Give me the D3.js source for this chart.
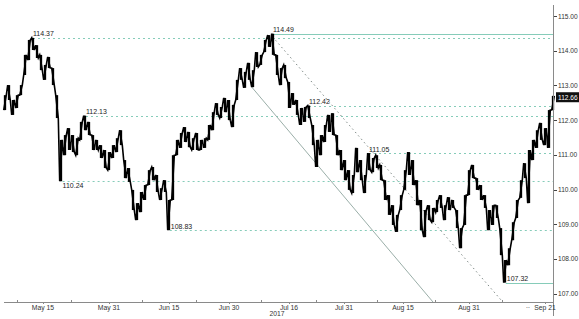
<!DOCTYPE html>
<html><head><meta charset="utf-8">
<script src="https://cdn.jsdelivr.net/npm/d3@7"></script>
<style>body{margin:0;background:#fff}svg{display:block}text{font-family:"Liberation Sans",Arial,sans-serif}</style>
</head><body><svg id="c" width="579" height="319"></svg>
<script>
// USD/JPY, bars (period index 0..137), high and low
const barHigh = [112.72,113.01,112.58,112.72,113.01,113.88,114.31,114.37,114.16,113.88,
113.59,113.82,113.50,112.72,111.43,111.57,111.77,111.57,111.48,111.95,
112.13,111.95,111.57,111.43,111.28,111.14,111.08,111.28,111.48,111.71,
110.85,110.62,109.99,109.61,109.93,110.13,110.56,110.65,110.42,110.04,
110.27,109.70,110.99,111.43,111.63,111.80,111.66,111.48,111.63,111.43,
111.48,111.86,112.23,112.49,112.38,112.64,112.58,112.44,113.16,113.50,
113.39,113.65,113.44,113.96,113.88,114.31,114.45,114.49,113.88,113.50,
113.59,113.10,112.78,112.58,112.35,112.38,112.42,111.86,111.43,111.57,
111.86,112.15,112.20,111.57,111.14,110.85,110.56,110.42,111.20,110.85,
110.42,111.05,110.91,110.99,110.71,110.27,109.84,109.55,109.27,109.84,
110.56,111.08,110.85,110.27,109.70,109.41,109.55,109.47,109.70,109.84,
109.55,109.78,109.70,109.41,108.89,109.84,110.56,110.71,110.33,110.13,
109.84,109.41,109.55,109.55,108.89,107.97,108.31,109.06,109.70,110.27,
110.76,111.14,111.43,111.71,111.92,111.77,112.29,112.70];
const barLow = [112.29,112.58,112.15,112.35,112.72,113.30,113.73,114.02,113.79,113.44,
113.16,113.50,113.01,112.06,110.24,110.99,111.14,111.08,110.99,111.43,
111.71,111.57,111.14,111.14,110.91,110.62,110.56,110.91,111.08,111.28,
110.33,110.22,109.41,109.12,109.35,109.70,110.13,110.27,109.93,109.70,
109.93,108.83,109.70,110.99,111.20,111.37,111.22,111.14,111.14,111.14,
111.20,111.43,111.71,112.15,112.06,112.23,112.00,111.80,112.58,113.16,
112.93,113.16,112.95,113.53,113.59,113.96,114.11,113.88,113.30,113.01,
113.21,112.35,112.44,112.15,111.86,111.95,112.06,111.28,110.65,110.99,
111.37,111.66,111.57,110.99,110.56,110.27,109.99,109.90,110.50,110.27,
109.90,110.56,110.50,110.62,110.27,109.70,109.27,108.98,108.78,109.41,
109.99,110.42,110.13,109.55,108.83,108.63,109.12,109.06,109.35,109.47,
109.12,109.41,109.47,108.89,108.31,108.98,109.84,110.33,109.99,109.70,
109.47,108.83,108.98,109.18,108.11,107.32,107.82,108.54,109.18,109.76,
110.33,109.61,110.85,111.20,111.43,111.28,111.20,112.29];
const lastPrice = 112.66;

// x axis: labels and tick marks, positions in bar index
const tickPos = [9.5, 26, 41, 56, 71, 84.75, 99.5, 116, 135];
const tickLabels = ["May 15","May 31","Jun 15","Jun 30","Jul 16","Jul 31","Aug 15","Aug 31","Sep 21"];
const majorTicks = [3, 16.5, 34.25, 47.75, 64, 77.75, 93, 107.5, 124.25];
const yearLabel = "2017", yearPos = 68;
const yTicks = [107,108,109,110,111,112,113,114,115];

// horizontal levels
const levelValues = [114.49, 114.37, 112.42, 112.13, 111.05, 110.24, 108.83, 107.32];
const levelStart  = [67, 7, 76, 20.25, 91, 14.4, 41.2, 125.2];
const levelSolid  = [true, false, false, false, false, false, false, true];
const levelLabelBelow = [false, false, false, false, false, true, false, false];

// trend lines [startIndex, startPrice, endIndex, endPrice]
const trendSolid  = [61.7, 112.95, 107, 106.76];
const trendDotted = [66.9, 114.40, 124, 106.82];

const svg = d3.select("#c");
const x = d3.scaleLinear().domain([0, 137]).range([5, 553]);
const y = d3.scaleLinear().domain([107, 115]).range([293.7, 16]);
const axisX = 553, axisY = 302;
const teal = "#86ccb9", grey = "#8a8a8a";

// levels
levelValues.forEach((v, i) => {
  svg.append("line").attr("x1", x(levelStart[i])).attr("x2", axisX)
    .attr("y1", Math.round(y(v)) + 0.5).attr("y2", Math.round(y(v)) + 0.5)
    .attr("stroke", teal).attr("stroke-width", 1)
    .attr("stroke-dasharray", levelSolid[i] ? null : "2,3");
});

// trend lines
svg.append("line").attr("x1", x(trendSolid[0])).attr("y1", y(trendSolid[1]))
  .attr("x2", x(trendSolid[2])).attr("y2", y(trendSolid[3]))
  .attr("stroke", "#9aaea8").attr("stroke-width", 1);
svg.append("line").attr("x1", x(trendDotted[0])).attr("y1", y(trendDotted[1]))
  .attr("x2", x(trendDotted[2])).attr("y2", y(trendDotted[3]))
  .attr("stroke", "#7f8a87").attr("stroke-width", 1).attr("stroke-dasharray", "1.5,3");

// price bars
const idx = d3.range(barHigh.length);
svg.append("g").selectAll("line").data(idx).join("line")
  .attr("x1", d => x(d)).attr("x2", d => x(d))
  .attr("y1", d => y(barHigh[d])).attr("y2", d => y(barLow[d]))
  .attr("stroke", "#000").attr("stroke-width", 2.3);
const pts = [];
idx.forEach(d => {
  const mid = (barHigh[d] + barLow[d]) / 2;
  const nextMid = d < idx.length - 1 ? (barHigh[d+1] + barLow[d+1]) / 2 : lastPrice;
  if (nextMid >= mid) { pts.push([x(d) - 1.3, y(barLow[d])]); pts.push([x(d) + 1.3, y(barHigh[d])]); }
  else { pts.push([x(d) - 1.3, y(barHigh[d])]); pts.push([x(d) + 1.3, y(barLow[d])]); }
});
svg.append("path").attr("d", d3.line()(pts)).attr("fill", "none")
  .attr("stroke", "#000").attr("stroke-width", 1.6).attr("stroke-linejoin", "miter");

// level labels
levelValues.forEach((v, i) => {
  const below = levelLabelBelow[i];
  svg.append("text").attr("x", x(levelStart[i]) + (i === 6 || i === 7 ? 1 : 0))
    .attr("y", y(v) + (below ? 7 : -1.5))
    .attr("font-size", 7).attr("fill", "#222").text(v.toFixed(2));
});

// axes
svg.append("line").attr("x1", 4).attr("x2", axisX).attr("y1", axisY + 0.5).attr("y2", axisY + 0.5)
  .attr("stroke", grey).attr("stroke-width", 1);
svg.append("line").attr("x1", axisX + 0.5).attr("x2", axisX + 0.5).attr("y1", 5).attr("y2", 316)
  .attr("stroke", grey).attr("stroke-width", 1);
majorTicks.forEach(t => {
  svg.append("line").attr("x1", Math.round(x(t)) + 0.5).attr("x2", Math.round(x(t)) + 0.5)
    .attr("y1", axisY - 2).attr("y2", axisY + 1).attr("stroke", grey);
});
tickPos.forEach((t, i) => {
  svg.append("line").attr("x1", Math.round(x(t)) + 0.5).attr("x2", Math.round(x(t)) + 0.5)
    .attr("y1", axisY).attr("y2", axisY + 2).attr("stroke", grey);
  svg.append("text").attr("x", x(t)).attr("y", axisY + 7.5).attr("text-anchor", "middle")
    .attr("font-size", 6.8).attr("fill", "#333").text(tickLabels[i]);
});
svg.append("text").attr("x", x(130.75)).attr("y", axisY + 6).attr("text-anchor", "middle")
  .attr("font-size", 6.8).attr("fill", "#333").text("..");
svg.append("text").attr("x", x(yearPos)).attr("y", axisY + 14).attr("text-anchor", "middle")
  .attr("font-size", 6.8).attr("fill", "#333").text(yearLabel);
yTicks.forEach(t => {
  svg.append("line").attr("x1", axisX + 1).attr("x2", axisX + 4)
    .attr("y1", Math.round(y(t)) + 0.5).attr("y2", Math.round(y(t)) + 0.5).attr("stroke", "#444");
  svg.append("text").attr("x", axisX + 5).attr("y", y(t) + 2.5)
    .attr("font-size", 6.6).attr("fill", "#333").text(t.toFixed(2));
});
// last price box
svg.append("rect").attr("x", axisX + 3).attr("y", y(lastPrice) - 5).attr("width", 579 - axisX - 3).attr("height", 10)
  .attr("fill", "#111");
svg.append("text").attr("x", axisX + 5).attr("y", y(lastPrice) + 2.5)
  .attr("font-size", 6.6).attr("fill", "#fff").text(lastPrice.toFixed(2));
</script></body></html>
